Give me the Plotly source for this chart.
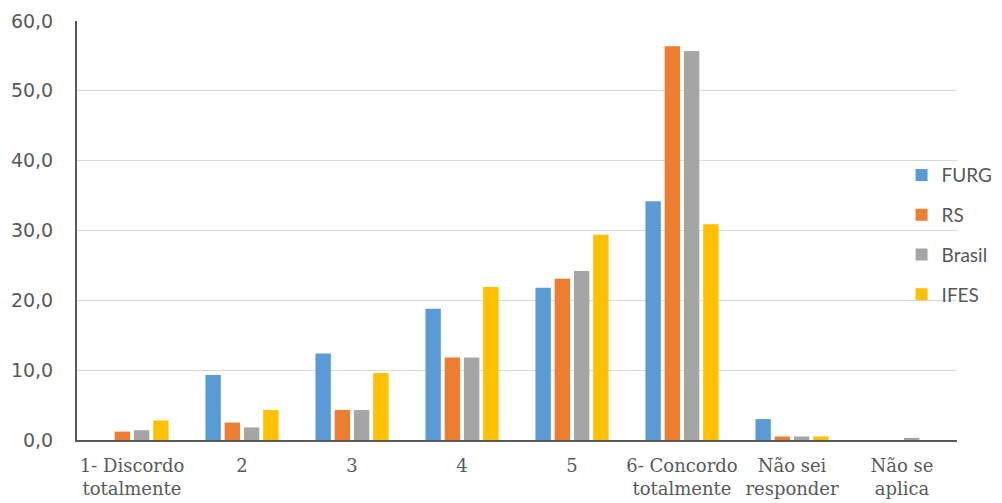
import plotly.graph_objects as go

categories = ["1- Discordo<br>totalmente", "2", "3", "4", "5", "6- Concordo<br>totalmente",
              "Não sei<br>responder", "Não se<br>aplica"]
furg = [0.0, 9.3, 12.4, 18.8, 21.8, 34.2, 3.0, 0.0]
rs = [1.2, 2.5, 4.3, 11.8, 23.1, 56.4, 0.5, 0.0]
brasil = [1.4, 1.8, 4.3, 11.8, 24.2, 55.7, 0.5, 0.3]
ifes = [2.8, 4.3, 9.6, 21.9, 29.4, 30.9, 0.5, 0.0]
y_tick_vals = [0, 10, 20, 30, 40, 50, 60]
y_tick_text = ["0,0", "10,0", "20,0", "30,0", "40,0", "50,0", "60,0"]

series = [("FURG", furg, "#5B9BD5"), ("RS", rs, "#ED7D31"),
          ("Brasil", brasil, "#A5A5A5"), ("IFES", ifes, "#FFC000")]

fig = go.Figure()
for name, vals, col in series:
    fig.add_trace(go.Bar(x=categories, y=vals, name=name, marker_color=col,
                         marker_line_width=0, legendgroup=name))

fig.update_layout(
    width=994, height=495,
    margin=dict(l=69, r=45, t=13, b=63, autoexpand=False),
    plot_bgcolor="white", paper_bgcolor="white",
    separators=",.",
    barmode="group", bargap=0.3, bargroupgap=0.2,
    font=dict(family="DejaVu Serif", size=18, color="#595959"),
    showlegend=True,
    legend=dict(x=0.937, y=0.49, xanchor="left", yanchor="middle",
                font=dict(family="Lato", size=19, color="#595959"),
                tracegroupgap=12, bgcolor="rgba(0,0,0,0)",
                itemwidth=30),
    xaxis=dict(showline=True, linecolor="#595959", linewidth=2, ticks="",
               ticklabelstandoff=8,
               tickfont=dict(family="DejaVu Serif", size=18, color="#595959")),
    yaxis=dict(range=[0, 60], tickvals=y_tick_vals, ticktext=y_tick_text,
               showgrid=True, gridcolor="#D9D9D9", gridwidth=1, showline=True,
               linecolor="#595959", linewidth=2, zeroline=False, ticks="",
               ticklabelstandoff=18,
               tickfont=dict(family="DejaVu Sans", size=19, color="#595959")),
)
fig.write_html("out.html")
